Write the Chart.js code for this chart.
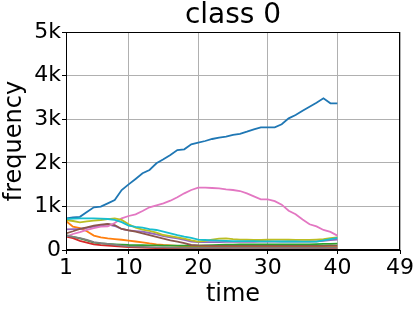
<!DOCTYPE html>
<html>
<head>
<meta charset="utf-8">
<script src="https://cdn.jsdelivr.net/npm/chart.js@4/dist/chart.umd.min.js"></script>
<style>
html,body{margin:0;padding:0;background:#fff;}
#wrap{width:419px;height:309px;}
</style>
</head>
<body>
<div id="wrap"><canvas id="c" width="419" height="309"></canvas></div>
<script>
const time = [1,2,3,4,5,6,7,8,9,10,11,12,13,14,15,16,17,18,19,20,21,22,23,24,25,26,27,28,29,30,31,32,33,34,35,36,37,38,39,40];
const xTicks = [1,10,20,30,40,49];
const seriesNames = ['0','1','2','3','4','5','6','7','8','9'];
const s0 = [727,745,760,870,980,994,1070,1147,1376,1506,1630,1759,1835,1988,2080,2179,2293,2310,2424,2461,2500,2546,2576,2599,2638,2665,2714,2768,2814,2814,2814,2883,3020,3096,3195,3287,3378,3479,3365,3365];
const s1 = [665,535,500,430,330,290,268,250,235,215,195,175,150,130,115,105,95,85,80,76,75,75,72,72,70,70,70,70,70,70,70,70,70,70,70,70,70,72,72,75];
const s2 = [344,300,268,220,170,150,140,130,122,115,112,110,108,105,100,100,100,100,100,100,105,110,115,120,125,130,130,130,130,130,130,130,130,130,130,130,135,140,140,145];
const s3 = [306,270,210,170,130,110,100,92,80,69,60,55,50,45,40,38,35,32,30,28,25,25,25,23,22,22,20,20,20,20,20,20,20,20,20,20,20,20,20,20];
const s4 = [474,478,482,505,535,560,590,550,482,450,435,420,390,359,320,290,268,230,191,180,180,180,180,185,185,185,185,185,190,190,190,190,190,190,190,195,200,210,225,237];
const s5 = [382,430,482,520,558,580,596,573,482,450,420,382,340,300,260,220,191,160,115,105,100,95,95,95,95,95,95,95,95,95,95,95,95,95,95,95,95,95,100,100];
const s6 = [305,367,410,459,500,534,540,620,727,780,819,894,979,1025,1071,1131,1209,1300,1376,1429,1429,1422,1414,1392,1376,1353,1300,1230,1162,1162,1120,1040,900,820,700,590,540,459,415,329];
const s7 = [330,300,270,230,180,160,140,120,100,85,76,70,65,60,58,55,55,52,50,50,50,50,50,50,50,50,50,50,50,50,50,50,50,50,50,50,50,50,55,55];
const s8 = [688,665,635,655,673,688,710,727,690,589,512,470,436,400,344,320,290,260,220,191,210,240,260,268,250,240,235,229,229,235,240,240,235,230,230,230,240,250,270,290];
const s9 = [711,720,727,727,727,720,711,690,640,560,530,512,480,459,420,380,340,306,280,240,229,220,214,210,205,205,205,205,200,200,200,195,195,195,191,191,191,220,250,280];
const allSeries = [s0,s1,s2,s3,s4,s5,s6,s7,s8,s9];
const colors = ['#1f77b4','#ff7f0e','#2ca02c','#d62728','#9467bd','#8c564b','#e377c2','#7f7f7f','#bcbd22','#17becf'];

const FONT = "'DejaVu Sans', sans-serif";

const frame = {
  id: 'frame',
  afterDraw(chart) {
    const a = chart.chartArea, ctx = chart.ctx;
    ctx.save();
    ctx.strokeStyle = '#000';
    ctx.lineWidth = 1;
    ctx.strokeRect(a.left + 0.5, a.top + 0.5, a.right - a.left - 1, a.bottom - a.top - 1);
    ctx.restore();
  }
};

new Chart(document.getElementById('c'), {
  type: 'line',
  data: {
    datasets: allSeries.map((s, i) => ({
      label: seriesNames[i],
      data: time.map((t, j) => ({x: t, y: s[j]})),
      borderColor: colors[i],
      backgroundColor: colors[i],
      borderWidth: 1.8,
      pointRadius: 0,
      tension: 0,
      fill: false,
      order: 9 - i
    }))
  },
  options: {
    responsive: false,
    animation: false,
    devicePixelRatio: 1,
    layout: {padding: {left: 0, right: 19, top: 0, bottom: 0}},
    plugins: {
      legend: {display: false},
      tooltip: {enabled: false},
      title: {
        display: true,
        text: 'class 0',
        color: '#000',
        fullSize: false,
        font: {family: FONT, size: 28, weight: 'normal', lineHeight: 1},
        padding: {top: 2, bottom: 2}
      }
    },
    scales: {
      x: {
        type: 'linear',
        min: 1, max: 49,
        afterBuildTicks(scale) { scale.ticks = xTicks.map(v => ({value: v})); },
        afterFit(scale) { scale.height = 59; },
        grid: {color: '#b0b0b0', lineWidth: 1, drawTicks: true, tickLength: 4, tickColor: '#000'},
        border: {display: true, color: '#000', width: 1},
        ticks: {color: '#000', font: {family: FONT, size: 22}, padding: 1, maxRotation: 0, autoSkip: false},
        title: {display: true, text: 'time', color: '#000', font: {family: FONT, size: 24, lineHeight: 1.2}, padding: {top: 0, bottom: 0}}
      },
      y: {
        min: 0, max: 5000,
        afterBuildTicks(scale) { scale.ticks = [0,1000,2000,3000,4000,5000].map(v => ({value: v})); },
        afterFit(scale) { scale.width = 66; },
        grid: {color: '#b0b0b0', lineWidth: 1, drawTicks: true, tickLength: 4, tickColor: '#000'},
        border: {display: true, color: '#000', width: 1},
        ticks: {
          color: '#000', font: {family: FONT, size: 22}, padding: 1,
          callback: v => v === 0 ? '0' : (v / 1000) + 'k'
        },
        title: {display: true, text: 'frequency', color: '#000', font: {family: FONT, size: 24, lineHeight: 1.2}, padding: {top: 0, bottom: 0}}
      }
    }
  },
  plugins: [frame]
});
</script>
</body>
</html>
